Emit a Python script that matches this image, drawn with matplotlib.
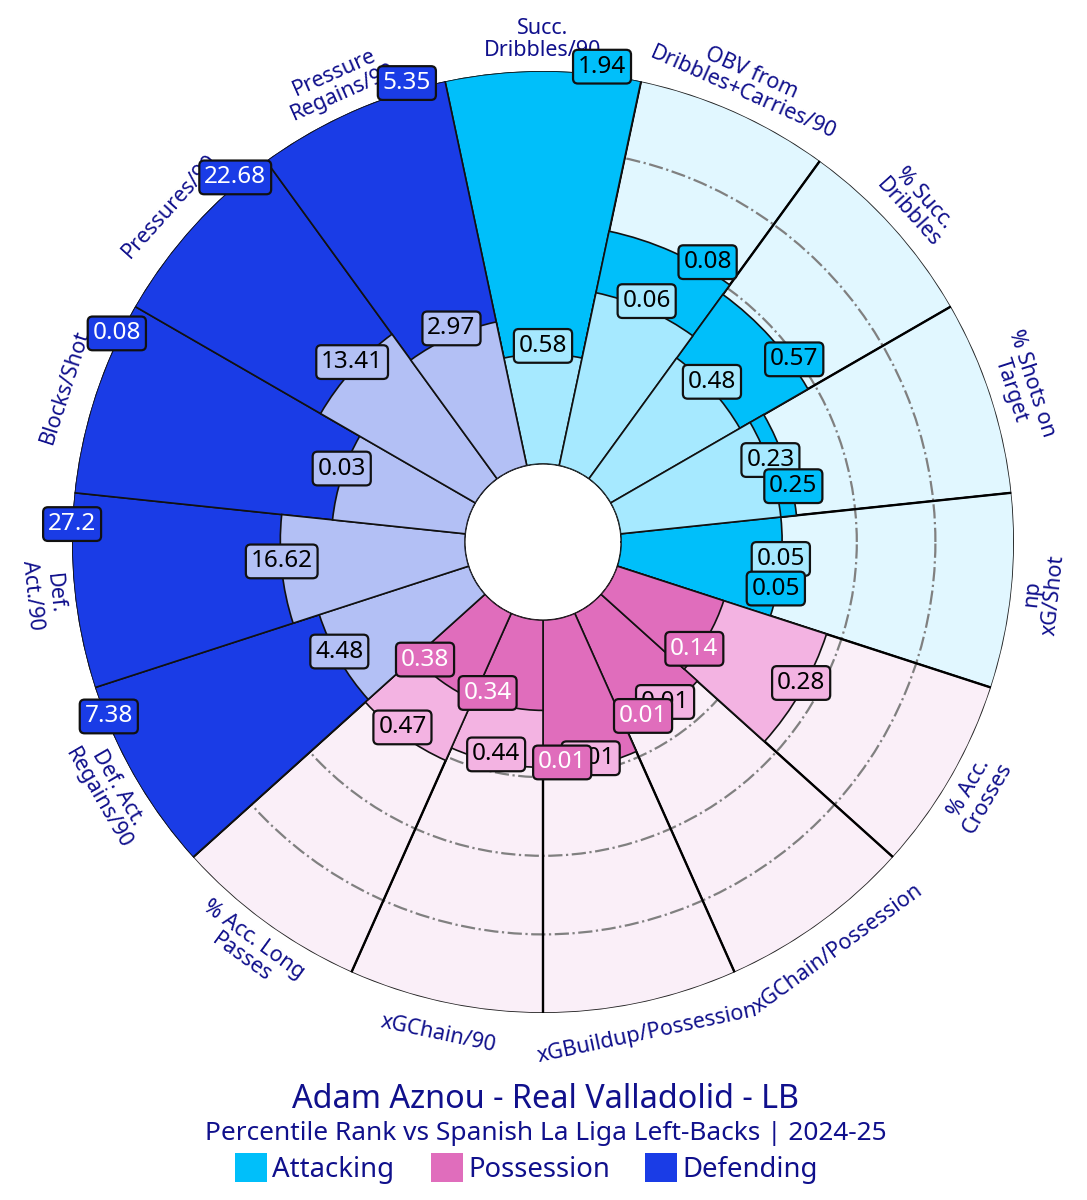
import numpy as np
import matplotlib.pyplot as plt
from matplotlib.patches import Rectangle

plt.rcParams['font.family'] = ['Noto Sans', 'DejaVu Sans']

# clockwise from the top
metrics = ["Succ.\nDribbles/90", "OBV from\nDribbles+Carries/90", "% Succ.\nDribbles",
           "% Shots on\nTarget", "np\nxG/Shot", "% Acc.\nCrosses",
           "xGChain/Possession", "xGBuildup/Possession", "xGChain/90",
           "% Acc. Long\nPasses", "Def. Act.\nRegains/90", "Def.\nAct./90",
           "Blocks/Shot", "Pressures/90", "Pressure\nRegains/90"]
groups = ["att", "att", "att", "att", "att", "pos", "pos", "pos", "pos", "pos",
          "def", "def", "def", "def", "def"]

# percentile ranks
player_pct = [100, 61, 58, 45, 41, 28.5, 33, 38.5, 23, 24, 100, 100, 100, 100, 100]
average_pct = [28, 45, 38, 41, 41, 56, 33, 38.5, 37.5, 41, 40, 47, 34, 45.5, 37.4]

# raw values shown in the boxes
player_vals = ["1.94", "0.08", "0.57", "0.25", "0.05", "0.14", "0.01", "0.01", "0.34",
               "0.38", "7.38", "27.2", "0.08", "22.68", "5.35"]
average_vals = ["0.58", "0.06", "0.48", "0.23", "0.05", "0.28", "0.01", "0.01", "0.44",
                "0.47", "4.48", "16.62", "0.03", "13.41", "2.97"]

main_cols = {"att": "#00BFFA", "pos": "#E06DBC", "def": "#1A3CE6"}
light_cols = {"att": "#A6E9FF", "pos": "#F3B3E2", "def": "#B3C0F5"}
back_cols = {"att": "#E1F7FF", "pos": "#FAEFF8", "def": "#E4E8FC"}
text_cols = {"att": "black", "pos": "white", "def": "white"}
navy = "#10108C"

legend_names = ["Attacking", "Possession", "Defending"]
legend_keys = ["att", "pos", "def"]

W, H = 1087, 1200
cx, cy, R = 543, 542, 471

fig = plt.figure(figsize=(W / 100, H / 100), dpi=100, facecolor="white")
ax = fig.add_axes([(cx - R) / W, (H - cy - R) / H, 2 * R / W, 2 * R / H], projection="polar")
ax.patch.set_alpha(0)
ax.spines["polar"].set_visible(False)

n = len(metrics)
step = 360 / n
centers = [(90 - step * i) % 360 for i in range(n)]
width = np.deg2rad(step)

# rings, hidden by the coloured bars
ax.set_rlim(0, 100)
ax.set_rorigin(-19.85)
ax.set_xticks([])
ax.set_rticks([20, 40, 60, 80])
ax.set_yticklabels([])
ax.yaxis.grid(True, color="#808080", linestyle="-.", linewidth=1.6)
ax.xaxis.grid(False)
ax.set_axisbelow("line")

for i in range(n):
    th = np.deg2rad(centers[i])
    g = groups[i]
    p = player_pct[i]
    a = average_pct[i]

    ax.bar(th, 100, width=width, bottom=0, color=back_cols[g], edgecolor="#222222",
           linewidth=1.2, zorder=1)
    ax.vlines(th + width / 2, 0, 100, color="black", linewidth=1.7, zorder=2)

    # bigger one goes underneath
    if a > p:
        ax.bar(th, a, width=width, color=light_cols[g], edgecolor="#111111", linewidth=1.2, zorder=3)
        ax.bar(th, p, width=width, color=main_cols[g], edgecolor="#111111", linewidth=1.2, zorder=4)
    else:
        ax.bar(th, p, width=width, color=main_cols[g], edgecolor="#111111", linewidth=1.2, zorder=3)
        if a < p:
            ax.bar(th, a, width=width, color=light_cols[g], edgecolor="#111111", linewidth=1.2, zorder=4)

    # metric names sit just outside the circle
    if centers[i] <= 180:
        rot = centers[i] - 90
    else:
        rot = centers[i] + 90
    ax.text(th, 108, metrics[i], color=navy, fontsize=15.5, rotation=rot, rotation_mode="anchor",
            ha="center", va="center", linespacing=1.05, multialignment="center", zorder=5, clip_on=False)

    # value boxes, the player's is pushed clockwise
    ax.annotate(average_vals[i], (th, a), xytext=(0, 5.8), textcoords="offset points",
                ha="center", va="center", fontsize=17.5, color="black", zorder=6, annotation_clip=False,
                bbox=dict(boxstyle="round,pad=0.2,rounding_size=0.2", fc=light_cols[g], ec="#111111", lw=1.6))
    ax.annotate(player_vals[i], (th - 0.3 * width, p), xytext=(0, 5.8), textcoords="offset points",
                ha="center", va="center", fontsize=17.5, color=text_cols[g], zorder=7, annotation_clip=False,
                bbox=dict(boxstyle="round,pad=0.2,rounding_size=0.2", fc=main_cols[g], ec="#111111", lw=1.6))

fig.text(546 / W, 1 - 1099 / H, "Adam Aznou - Real Valladolid - LB", color=navy, fontsize=23.3,
         ha="center", va="center")
fig.text(546 / W, 1 - 1134 / H, "Percentile Rank vs Spanish La Liga Left-Backs | 2024-25", color=navy,
         fontsize=18.9, ha="center", va="center")

leg_x = [235, 431, 645]
for name, key, x0 in zip(legend_names, legend_keys, leg_x):
    fig.add_artist(Rectangle((x0 / W, 1 - 1182 / H), 32 / W, 29 / H, transform=fig.transFigure,
                             facecolor=main_cols[key], edgecolor="none"))
    fig.text((x0 + 37) / W, 1 - 1170 / H, name, color=navy, fontsize=19.8, ha="left", va="center")

fig.savefig("out.png", dpi=100, facecolor="white")
